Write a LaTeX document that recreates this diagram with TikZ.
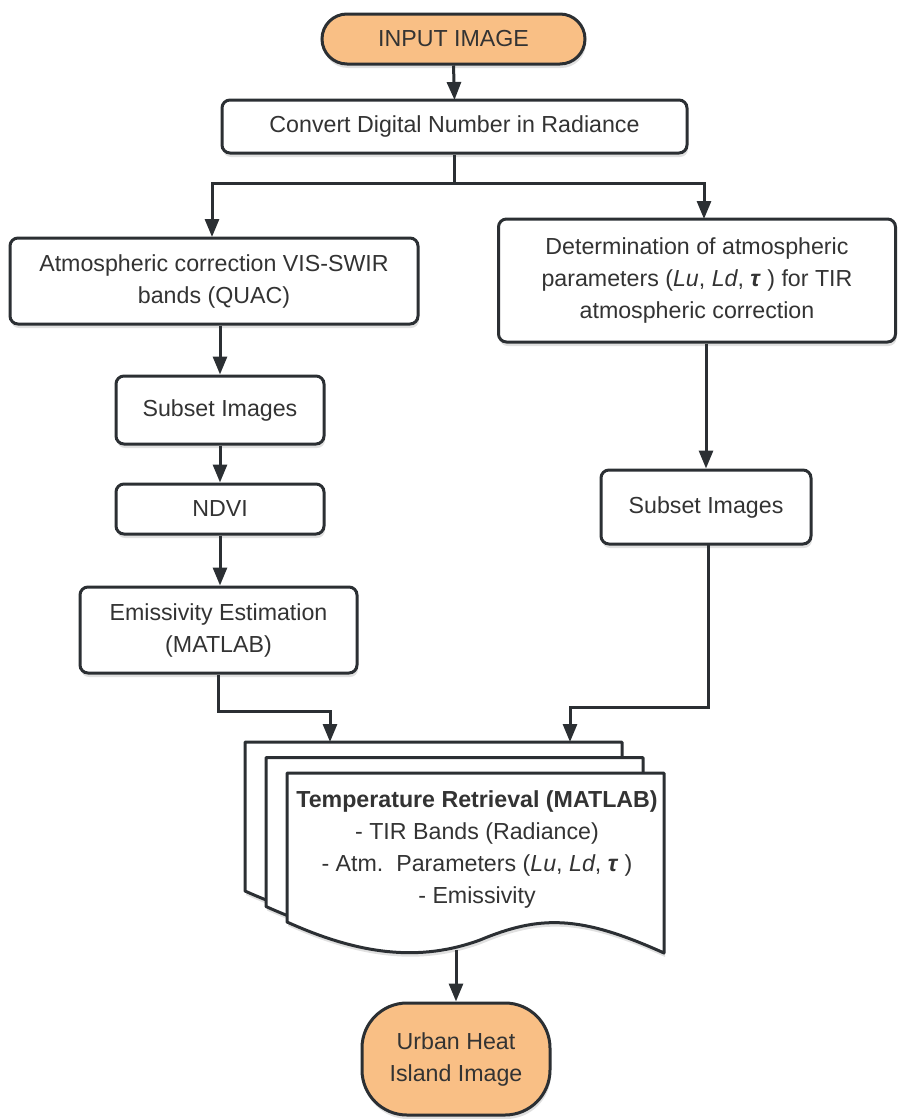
\documentclass[tikz,border=0pt]{standalone}
\usepackage{fontspec}
\setmainfont{Liberation Sans}
\usetikzlibrary{arrows.meta,shadows}
\definecolor{edge}{HTML}{2B2F33}
\definecolor{txt}{HTML}{333333}
\definecolor{term}{HTML}{F9BF85}
\begin{document}
\begin{tikzpicture}[x=1pt,y=-1pt,
  every node/.style={font=\fontsize{23.2}{32}\selectfont, text=txt, align=center},
  shad/.style={drop shadow={shadow xshift=1pt,shadow yshift=-4pt,opacity=0.12,fill=black}},
  procbox/.style={draw=edge, line width=3pt, fill=white, rounded corners=8pt, inner sep=0pt, shad},
  termbox/.style={draw=edge, line width=3pt, fill=term, inner sep=0pt, shad},
  arr/.style={draw=edge, line width=3pt, -{Triangle[length=18pt,width=14pt]}},
  ln/.style={draw=edge, line width=3pt},
  docsh/.style={draw=edge, line width=3pt, fill=white, line join=round}
]
\useasboundingbox (0,0) rectangle (898,1119);

\node[termbox, rounded corners=25pt, minimum width=263pt, minimum height=50pt] (input) at (453.5,39) {INPUT IMAGE};
\node[procbox, minimum width=465pt, minimum height=53pt] (convert) at (454.5,126.5) {Convert Digital Number in Radiance};
\node[procbox, minimum width=408pt, minimum height=86pt] (atm) at (214,281) {Atmospheric correction VIS-SWIR\\bands (QUAC)};
\node[procbox, minimum width=397pt, minimum height=123pt] (det) at (697,280.5) {Determination of atmospheric\\parameters (\textit{Lu}, \textit{Ld}, \textbf{\textit{τ}} ) for TIR\\atmospheric correction};
\node[procbox, minimum width=208pt, minimum height=68pt] (sub1) at (220,410) {Subset Images};
\node[procbox, minimum width=208pt, minimum height=50pt] (ndvi) at (220,509) {NDVI};
\node[procbox, minimum width=277pt, minimum height=86pt] (emis) at (218.5,630) {Emissivity Estimation\\(MATLAB)};
\node[procbox, minimum width=210pt, minimum height=74pt] (sub2) at (706,507) {Subset Images};

% multi-document
\foreach \dx/\dy in {-42/-31,-21/-15.5,0/0}{
  \path[docsh, shad, shift={(\dx,\dy)}] (287,773) -- (664,773) -- (664,953)
    .. controls (580,915) and (540,915) .. (480,940)
    .. controls (420,962) and (360,955) .. (287,922) -- cycle;
}
\node[inner sep=0pt] (doc) at (477,849) {\textbf{Temperature Retrieval (MATLAB)}\\- TIR Bands (Radiance)\\- Atm.\ \ Parameters (\textit{Lu}, \textit{Ld}, \textbf{\textit{τ}} )\\- Emissivity};
\coordinate (docL) at (330,742);
\coordinate (docR) at (570,742);
\coordinate (docB) at (456,950);

\node[termbox, rounded corners=45pt, minimum width=188pt, minimum height=112pt] (uhi) at (456,1059) {Urban Heat\\Island Image};

% connectors
\draw[arr] (input.south) -- (454.5,100);
\coordinate (split) at (454.5,183);
\draw[arr] (convert.south) -- (split) -| (212,237);
\draw[arr] (split) -| (704,219);
\draw[arr] (sub1.north |- atm.south) -- (sub1.north);
\draw[arr] (sub1.south) -- (ndvi.north);
\draw[arr] (ndvi.south) -- (emis.north -| ndvi.south);
\draw[arr] (sub2.north |- det.south) -- (sub2.north);
\draw[arr] (emis.south) -- ++(0,37) -| (docL);
\draw[arr] (708,544) -- (708,707) -| (docR);
\draw[arr] (docB) -- (uhi.north);
\end{tikzpicture}
\end{document}
